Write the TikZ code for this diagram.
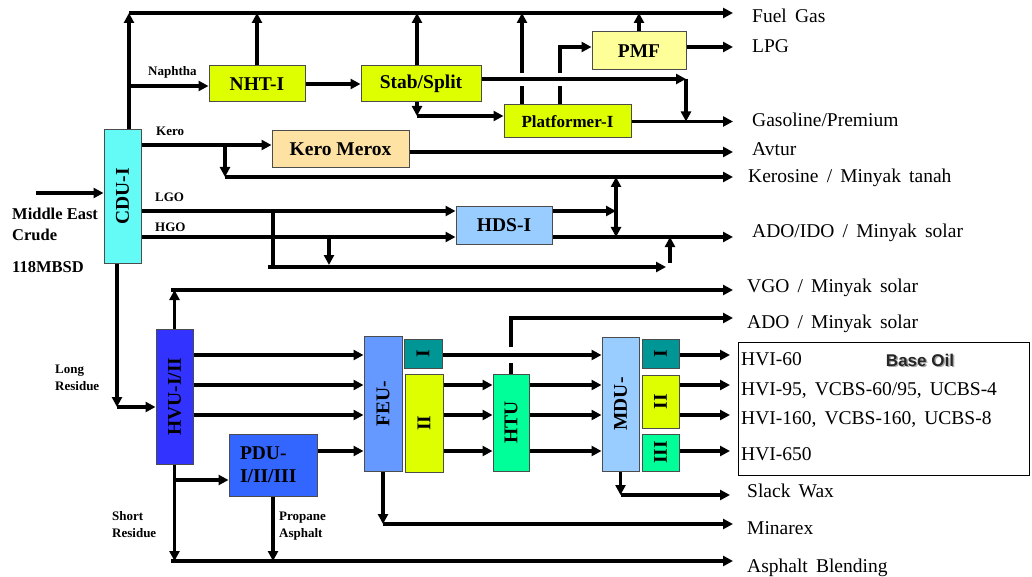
\documentclass[tikz,border=0pt]{standalone}
\usepackage{fontspec}
\setmainfont{Liberation Serif}
\newfontfamily\basesans{Liberation Sans}
\usepackage{graphicx}
\usetikzlibrary{arrows.meta}
\definecolor{cducyan}{RGB}{100,250,245}
\definecolor{lime}{RGB}{221,255,0}
\definecolor{pale}{RGB}{255,255,153}
\definecolor{peach}{RGB}{253,226,163}
\definecolor{skyblue}{RGB}{153,204,255}
\definecolor{deepblue}{RGB}{51,51,255}
\definecolor{midblue}{RGB}{51,102,255}
\definecolor{softblue}{RGB}{102,153,255}
\definecolor{teal}{RGB}{0,150,150}
\definecolor{mint}{RGB}{0,255,153}
\newcommand\prodfont{\fontsize{19.5}{23}\selectfont\spaceskip=0.42em plus 0.1em minus 0.05em\relax}

\begin{document}
\begin{tikzpicture}[x=1pt,y=-1pt,
  unit/.style={draw=black!70, line width=1pt, inner sep=0pt,
    font=\bfseries\fontsize{19.5}{23}\selectfont},
  pipe/.style={line width=3.2pt},
  flow/.style={pipe, -{Triangle[length=10pt,width=10pt]}},
  small/.style={inner sep=0pt, align=left, font=\bfseries\fontsize{13}{17}\selectfont},
  prod/.style={anchor=base west, inner sep=0pt, font=\prodfont}]
  \useasboundingbox (0,0) rectangle (1032,577);

  % process units
  \node[unit, fill=cducyan, minimum width=37pt, minimum height=133pt] (cdu) at (122.5,196.5) {\rotatebox{90}{CDU-I}};
  \node[unit, fill=lime, minimum width=96pt, minimum height=36pt] (nht) at (257,84) {NHT-I};
  \node[unit, fill=lime, minimum width=120pt, minimum height=36pt] (stab) at (421,84) {Stab/Split};
  \node[unit, fill=lime, minimum width=127pt, minimum height=33pt, font=\bfseries\fontsize{17}{20}\selectfont] (plat) at (567.5,121.5) {Platformer-I};
  \node[unit, fill=pale, minimum width=94pt, minimum height=38pt] (pmf) at (639,51) {PMF};
  \node[unit, fill=peach, minimum width=137pt, minimum height=37pt] (kmx) at (340.5,149.5) {Kero Merox};
  \node[unit, fill=skyblue, minimum width=96pt, minimum height=37pt] (hds) at (504,225.5) {HDS-I};
  \node[unit, fill=deepblue, minimum width=37pt, minimum height=135pt] (hvu) at (174.5,396.5) {\rotatebox{90}{HVU-I/II}};
  \node[unit, fill=midblue, minimum width=88pt, minimum height=62pt, text width=66pt, align=left] (pdu) at (273,465) {PDU-\\I/II/III};
  \node[unit, fill=softblue, minimum width=38pt, minimum height=135pt] (feu) at (383,403.5) {\rotatebox{90}{FEU-}};
  \node[unit, fill=teal, minimum width=38pt, minimum height=29pt] (feui) at (423,353.5) {\rotatebox{90}{I}};
  \node[unit, fill=lime, minimum width=38pt, minimum height=98pt] (feuii) at (424,423) {\rotatebox{90}{II}};
  \node[unit, fill=mint, minimum width=36pt, minimum height=97pt] (htu) at (511,422.5) {\rotatebox{90}{HTU}};
  \node[unit, fill=skyblue, minimum width=37pt, minimum height=134pt] (mdu) at (620.5,404) {\rotatebox{90}{MDU-}};
  \node[unit, fill=teal, minimum width=37pt, minimum height=29pt] (mdui) at (660.5,353.5) {\rotatebox{90}{I}};
  \node[unit, fill=lime, minimum width=37pt, minimum height=53pt] (mduii) at (660.5,401.5) {\rotatebox{90}{II}};
  \node[unit, fill=mint, minimum width=37pt, minimum height=37pt] (mduiii) at (660.5,452.5) {\rotatebox{90}{III}};
  \node[draw, line width=1pt, inner sep=0pt, minimum width=291pt, minimum height=133pt] (baseoil) at (883.5,408.5) {};

  % reference points
  \coordinate (ox) at (733,0);
  \coordinate (oxb) at (730,0);
  \coordinate (fg) at (129,13);
  \coordinate (naph) at (129,86);
  \coordinate (pin) at (417,116);
  \coordinate (gx) at (686,79);
  \coordinate (pu1) at (522,86);
  \coordinate (pu1b) at (522,73);
  \coordinate (pu2) at (560,86);
  \coordinate (pu2b) at (560,73);
  \coordinate (pm) at (560,47);
  \coordinate (kin) at (0,145);
  \coordinate (kb) at (225,145);
  \coordinate (ks) at (225,177);
  \coordinate (av) at (0,152);
  \coordinate (lgo) at (0,211);
  \coordinate (hgo) at (0,237);
  \coordinate (dv) at (616,0);
  \coordinate (lb) at (273,267);
  \coordinate (lbs) at (268,267);
  \coordinate (lbe) at (666,267);
  \coordinate (lbu) at (670,263);
  \coordinate (hb) at (329,265);
  \coordinate (crude) at (36,193);
  \coordinate (lr) at (117,407);
  \coordinate (vgo) at (171,290);
  \coordinate (y1) at (0,355);
  \coordinate (y2) at (0,385);
  \coordinate (y3) at (0,415);
  \coordinate (y4) at (0,451);
  \coordinate (yp) at (0,480);
  \coordinate (asph) at (171,561);
  \coordinate (mnx) at (0,524);
  \coordinate (hj) at (0,363);
  \coordinate (hk) at (0,347);
  \coordinate (ado) at (0,318);
  \coordinate (sw) at (0,495);

  % light ends
  \draw[flow] (cdu.north -| fg) -- (fg);
  \draw[flow] (fg) -- (fg -| ox);
  \draw[flow] (naph) -- (naph -| nht.west);
  \draw[flow] (nht.north) -- (nht.north |- fg);
  \draw[flow] (nht.east) -- (stab.west);
  \draw[flow] (stab.north -| pin) -- (pin |- fg);
  \draw[flow] (stab.south -| pin) -- (pin);
  \draw[flow] (pin) -- (pin -| plat.west);
  \draw[flow] (stab.east |- gx) -- (gx);
  \draw[flow] (gx) -- (gx |- plat.east);
  \draw[flow] (plat.east) -- (plat.east -| ox);
  \draw[pipe] (plat.north -| pu1) -- (pu1);
  \draw[flow] (pu1b) -- (pu1b |- fg);
  \draw[pipe] (plat.north -| pu2) -- (pu2);
  \draw[flow] (pu2b) -- (pm) -- (pm -| pmf.west);
  \draw[flow] (pmf.north) -- (pmf.north |- fg);
  \draw[flow] (pmf.east |- pm) -- (pm -| ox);

  % kero and gas oils
  \draw[flow] (cdu.east |- kin) -- (kin -| kmx.west);
  \draw[flow] (kb) -- (ks);
  \draw[flow] (ks) -- (ks -| ox);
  \draw[flow] (kmx.east |- av) -- (av -| ox);
  \draw[flow] (cdu.east |- lgo) -- (hds.west |- lgo);
  \draw[flow] (cdu.east |- hgo) -- (hds.west |- hgo);
  \draw[flow] (hds.east |- lgo) -- (dv |- lgo);
  \draw[pipe, {Triangle[length=10pt,width=10pt]}-{Triangle[length=10pt,width=10pt]}] (dv |- ks) -- (dv |- hgo);
  \draw[flow] (hds.east |- hgo) -- (hgo -| ox);
  \draw[pipe] (lb |- lgo) -- (lb);
  \draw[flow] (lbs) -- (lbe);
  \draw[flow] (lbu) -- (lbu |- hgo);
  \draw[flow] (hb |- hgo) -- (hb);
  \draw[flow] (crude) -- (crude -| cdu.west);

  % residue and lube train
  \draw[flow] (cdu.south -| lr) -- (lr);
  \draw[flow] (lr) -- (lr -| hvu.west);
  \draw[flow] (hvu.north) -- (hvu.north |- vgo);
  \draw[flow] (vgo) -- (vgo -| ox);
  \foreach \yy in {y1,y2,y3}
    \draw[flow] (hvu.east |- \yy) -- (feu.west |- \yy);
  \draw[flow] (pdu.east |- y4) -- (feu.west |- y4);
  \draw[flow] (hvu.south |- yp) -- (pdu.west |- yp);
  \draw[flow] (hvu.south) -- (hvu.south |- asph);
  \draw[flow] (pdu.south) -- (pdu.south |- asph);
  \draw[flow] (asph) -- (asph -| ox);
  \draw[flow] (feu.south) -- (feu.south |- mnx);
  \draw[flow] (feu.south |- mnx) -- (mnx -| ox);
  \draw[flow] (feui.east |- y1) -- (mdu.west |- y1);
  \foreach \yy in {y2,y3,y4} {
    \draw[flow] (feuii.east |- \yy) -- (htu.west |- \yy);
    \draw[flow] (htu.east |- \yy) -- (mdu.west |- \yy);
  }
  \draw[pipe] (htu.north) -- (htu.north |- hj);
  \draw[flow] (htu.north |- hk) -- (htu.north |- ado) -- (ado -| ox);
  \draw[flow] (mdui.east |- y1) -- (y1 -| oxb);
  \draw[flow] (mduii.east |- y2) -- (y2 -| oxb);
  \draw[flow] (mduii.east |- y3) -- (y3 -| oxb);
  \draw[flow] (mduiii.east |- y4) -- (y4 -| oxb);
  \draw[flow] (mdu.south) -- (mdu.south |- sw);
  \draw[flow] (mdu.south |- sw) -- (sw -| oxb);

  % stream labels
  \node[small, anchor=base west] (lnaph) at (148,76) {Naphtha};
  \node[small, anchor=base west] (lkero) at (156,136) {Kero};
  \node[small, anchor=base west] (llgo) at (155,202) {LGO};
  \node[small, anchor=base west] (lhgo) at (155,231) {HGO};
  \node[small, anchor=west] (llong) at (55,378) {Long\\Residue};
  \node[small, anchor=west] (lshort) at (112,525) {Short\\Residue};
  \node[small, anchor=west] (lprop) at (279,526) {Propane\\Asphalt};
  \node[inner sep=0pt, align=left, anchor=west, font=\bfseries\fontsize{16.5}{21}\selectfont] (lcrude) at (12,224) {Middle East\\Crude};
  \node[inner sep=0pt, anchor=base west, font=\bfseries\fontsize{16.5}{21}\selectfont] (lrate) at (12,272) {118MBSD};

  % products
  \node[prod] (pfuel) at (752,23) {Fuel Gas};
  \node[prod] (plpg) at (752,53) {LPG};
  \node[prod] (pgas) at (752,127) {Gasoline/Premium};
  \node[prod] (pavt) at (752,156) {Avtur};
  \node[prod] (pker) at (748,183) {Kerosine / Minyak tanah};
  \node[prod] (pado) at (752,237) {ADO/IDO / Minyak solar};
  \node[prod] (pvgo) at (747,292) {VGO / Minyak solar};
  \node[prod] (pado2) at (747,328) {ADO / Minyak solar};
  \node[prod] (phvi1) at (741,365) {HVI-60};
  \node[prod] (phvi2) at (741,395) {HVI-95, VCBS-60/95, UCBS-4};
  \node[prod] (phvi3) at (741,424) {HVI-160, VCBS-160, UCBS-8};
  \node[prod] (phvi4) at (741,460) {HVI-650};
  \node[prod] (pwax) at (747,497) {Slack Wax};
  \node[prod] (pmin) at (747,534) {Minarex};
  \node[prod] (pasp) at (747,572) {Asphalt Blending};
  \node[anchor=base, inner sep=0pt, text=black!35, font=\basesans\bfseries\fontsize{17}{20}\selectfont] (bshadow) at (921.5,367.5) {Base Oil};
  \node[anchor=base, inner sep=0pt, text=black!85, font=\basesans\bfseries\fontsize{17}{20}\selectfont] (btitle) at (920,366) {Base Oil};
\end{tikzpicture}
\end{document}
